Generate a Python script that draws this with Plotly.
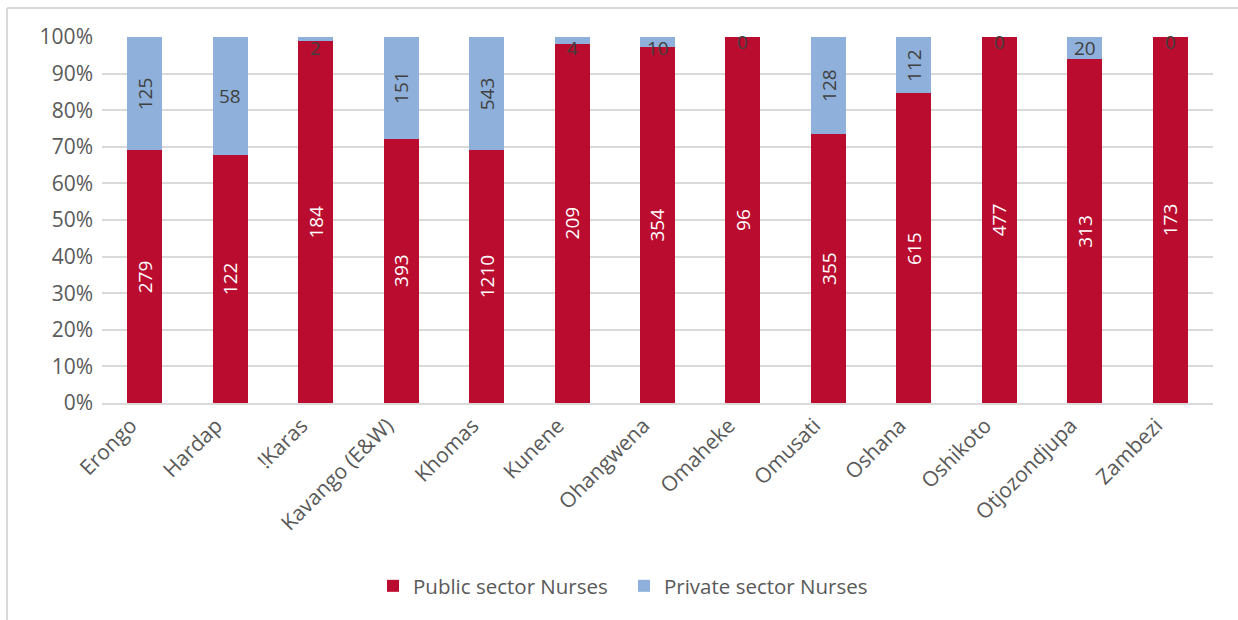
import plotly.graph_objects as go

regions = ["Erongo", "Hardap", "!Karas", "Kavango (E&W)", "Khomas", "Kunene",
           "Ohangwena", "Omaheke", "Omusati", "Oshana", "Oshikoto",
           "Otjozondjupa", "Zambezi"]
public_nurses = [279, 122, 184, 393, 1210, 209, 354, 96, 355, 615, 477, 313, 173]
private_nurses = [125, 58, 2, 151, 543, 4, 10, 0, 128, 112, 0, 20, 0]
y_ticks = [0, 10, 20, 30, 40, 50, 60, 70, 80, 90, 100]

RED = "#BA0C2F"
BLUE = "#8EB0DA"
FONT = "Open Sans"
GREY_TXT = "#595959"

fig = go.Figure()
fig.add_trace(go.Bar(name="Public sector Nurses", x=regions, y=public_nurses,
                     marker=dict(color=RED, line=dict(width=0)), width=0.41))
fig.add_trace(go.Bar(name="Private sector Nurses", x=regions, y=private_nurses,
                     marker=dict(color=BLUE, line=dict(width=0)), width=0.41))

# value labels centred on each segment (share of the regional total)
annotations = []
for reg, pub, prv in zip(regions, public_nurses, private_nurses):
    tot = pub + prv
    pub_pct = pub / tot * 100
    annotations.append(dict(x=reg, y=pub_pct / 2, text=str(pub), showarrow=False,
                            textangle=-90, font=dict(family=FONT, size=19, color="white")))
    mid = pub_pct + (100 - pub_pct) / 2
    if prv >= 100:
        annotations.append(dict(x=reg, y=mid, text=str(prv), showarrow=False,
                                textangle=-90, font=dict(family=FONT, size=19, color="#404040")))
    else:
        ypos = min(mid, 97.0) if prv > 0 else 98.5
        annotations.append(dict(x=reg, y=ypos, text=str(prv), showarrow=False,
                                font=dict(family=FONT, size=19, color="#404040")))

fig.update_layout(
    barmode="stack",
    barnorm="percent",
    width=1238, height=620,
    margin=dict(l=102, r=25, t=37, b=217),
    paper_bgcolor="white", plot_bgcolor="white",
    font=dict(family=FONT, color=GREY_TXT),
    annotations=annotations,
    showlegend=True,
    legend=dict(orientation="h", x=0.2439, xanchor="left", y=-0.5, yanchor="middle",
                font=dict(family=FONT, size=20.5, color=GREY_TXT),
                itemwidth=30, entrywidth=206, entrywidthmode="pixels",
                traceorder="normal"),
    shapes=[
        dict(type="line", xref="paper", yref="paper", x0=-0.0855, x1=1.03, y0=1.0792, y1=1.0792,
             line=dict(color="#D9D9D9", width=2)),
        dict(type="line", xref="paper", yref="paper", x0=-0.0855, x1=-0.0855, y0=1.0792, y1=-0.6,
             line=dict(color="#D9D9D9", width=2)),
    ],
)
fig.update_yaxes(range=[0, 100], tickvals=y_ticks, ticktext=[f"{v}%" for v in y_ticks],
                 showgrid=True, gridcolor="#D9D9D9", gridwidth=2, zeroline=False,
                 showline=False, ticks="", ticklen=0, ticklabelstandoff=8,
                 tickfont=dict(family=FONT, size=21, color=GREY_TXT))
fig.update_xaxes(showline=True, linecolor="#D9D9D9", linewidth=2, ticks="",
                 tickangle=-45, ticklabelshift=-14, ticklabelstandoff=0,
                 tickfont=dict(family=FONT, size=21, color=GREY_TXT))

fig.write_html("out.html")
